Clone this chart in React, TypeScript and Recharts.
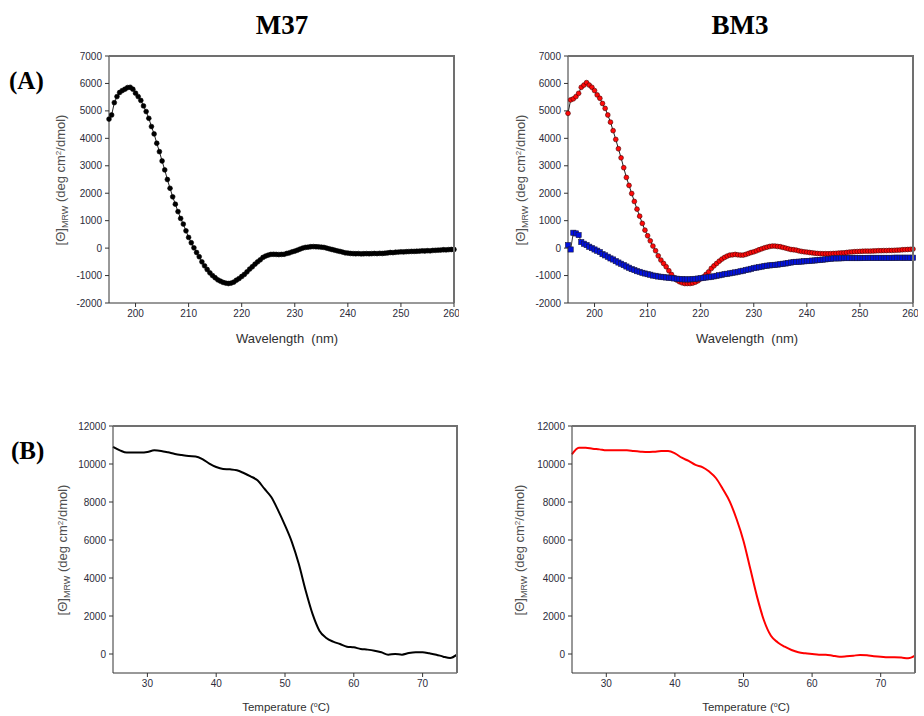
import React from 'react';
import { LineChart, Line, XAxis, YAxis } from 'recharts';

// wavelength grid of the CD spectra (nm), 0.5 nm steps
const wavelengths: number[] = [];
for (let w = 195; w <= 260; w += 0.5) wavelengths.push(w);

// [Θ]MRW values, 195 -> 260 nm
const m37Spectrum = [
  4700, 4850, 5300, 5520, 5670, 5740, 5790, 5850, 5860, 5790,
  5645, 5520, 5380, 5180, 4975, 4730, 4430, 4160, 3820, 3515,
  3175, 2850, 2500, 2180, 1870, 1600, 1330, 1080, 875, 630,
  390, 195, 10, -160, -315, -500, -645, -780, -900, -1000,
  -1080, -1155, -1205, -1250, -1275, -1290, -1275, -1240, -1170, -1110,
  -1035, -960, -865, -765, -680, -585, -500, -425, -340, -290,
  -255, -230, -225, -230, -235, -230, -225, -195, -170, -135,
  -110, -75, -35, 0, 25, 35, 50, 55, 50, 45,
  35, 25, 0, -25, -50, -75, -100, -120, -145, -170,
  -180, -195, -200, -205, -200, -210, -205, -200, -205, -200,
  -195, -200, -190, -195, -185, -175, -160, -165, -150, -145,
  -135, -140, -130, -125, -120, -120, -115, -110, -100, -105,
  -95, -100, -85, -80, -75, -70, -60, -65, -55, -50,
  -50,
];

const bm3SpectrumRed = [
  4910, 5400, 5440, 5520, 5640, 5860, 5940, 6030, 5940, 5860,
  5740, 5580, 5460, 5270, 5090, 4850, 4590, 4280, 3960, 3620,
  3290, 2930, 2575, 2285, 1990, 1700, 1420, 1165, 900, 655,
  450, 265, 75, -95, -280, -435, -560, -680, -825, -960,
  -1080, -1165, -1225, -1265, -1290, -1290, -1290, -1275, -1240, -1190,
  -1120, -1045, -960, -865, -740, -645, -560, -475, -400, -340,
  -290, -255, -245, -230, -245, -255, -255, -230, -195, -160,
  -135, -100, -60, -25, 10, 35, 60, 75, 75, 60,
  50, 25, 0, -25, -50, -60, -75, -100, -120, -135,
  -145, -160, -170, -185, -195, -200, -205, -205, -205, -200,
  -195, -190, -180, -175, -170, -160, -145, -140, -130, -125,
  -120, -115, -110, -110, -110, -105, -100, -95, -95, -90,
  -90, -85, -85, -80, -75, -70, -60, -55, -50, -45,
  -35,
];

const bm3SpectrumBlue = [
  110, -50, 560, 535, 475, 220, 160, 110, 50, 0,
  -50, -95, -145, -220, -265, -315, -375, -415, -475, -525,
  -570, -620, -670, -715, -765, -800, -840, -865, -900, -925,
  -950, -970, -1000, -1010, -1035, -1045, -1060, -1070, -1080, -1090,
  -1105, -1115, -1130, -1135, -1140, -1140, -1140, -1130, -1120, -1110,
  -1095, -1085, -1070, -1060, -1045, -1030, -1010, -990, -970, -950,
  -935, -920, -900, -885, -865, -845, -825, -800, -780, -755,
  -730, -710, -695, -675, -655, -640, -630, -620, -610, -600,
  -585, -570, -560, -540, -525, -510, -500, -495, -490, -480,
  -475, -465, -455, -450, -440, -430, -420, -410, -400, -390,
  -375, -375, -375, -370, -365, -365, -365, -365, -365, -365,
  -365, -360, -360, -355, -355, -355, -355, -355, -355, -355,
  -355, -355, -355, -350, -350, -350, -350, -350, -350, -350,
  -350,
];

// thermal melts, 25 -> 75 °C in 1 °C steps
const temperatures: number[] = [];
for (let t = 25; t <= 75; t++) temperatures.push(t);

const m37Melt = [
  10900, 10720, 10600, 10600, 10600, 10630, 10720, 10690, 10615, 10530,
  10470, 10420, 10400, 10260, 10020, 9840, 9740, 9720, 9670, 9525,
  9350, 9140, 8700, 8260, 7560, 6770, 5890, 4745, 3340, 2110,
  1230, 845, 650, 525, 385, 350, 265, 230, 175, 90,
  -35, 0, -35, 50, 90, 90, 35, -35, -140, -210,
  -35,
];

const bm3Melt = [
  10510, 10860, 10860, 10800, 10770, 10720, 10720, 10720, 10720, 10680,
  10650, 10630, 10650, 10680, 10680, 10560, 10330, 10160, 9950, 9840,
  9600, 9250, 8670, 8020, 7090, 5950, 4470, 2980, 1750, 960,
  610, 385, 210, 90, 35, 0, -35, -35, -90, -140,
  -120, -90, -50, -70, -120, -140, -175, -175, -190, -230,
  -90,
];

const wavelengthTicks = [200, 210, 220, 230, 240, 250, 260];
const cdTicks = [-2000, -1000, 0, 1000, 2000, 3000, 4000, 5000, 6000, 7000];
const temperatureTicks = [30, 40, 50, 60, 70];
const meltTicks = [0, 2000, 4000, 6000, 8000, 10000, 12000];

const spectrumData = wavelengths.map((w, i) => ({
  w,
  m37: m37Spectrum[i],
  red: bm3SpectrumRed[i],
  blue: bm3SpectrumBlue[i],
}));

const meltData = temperatures.map((t, i) => ({ t, m37: m37Melt[i], bm3: bm3Melt[i] }));

const SANS = '"Liberation Sans", Arial, sans-serif';
const SERIF = '"Liberation Serif", "Times New Roman", serif';
const AXIS = '#333';
const FRAME = '#707070';
const tickStyle = { fontSize: 10, fontFamily: SANS, fill: '#2b2b3a' };

// chart box: y axis width + margins, the plot box follows from these
const Y_W = 50;
const M_TOP = 5;
const M_RIGHT = 5;
const X_H = 30;
const CHART_H = 282;

const roundDot = (fill: string, stroke: string) => (p: any) => (
  <circle key={`c${p.index}`} cx={p.cx} cy={p.cy} r={2.4} fill={fill} stroke={stroke} strokeWidth={0.6} />
);

const squareDot = (p: any) => (
  <rect key={`s${p.index}`} x={p.cx - 2.6} y={p.cy - 2.6} width={5.2} height={5.2} fill="#0010e0" stroke="#1a1a40" strokeWidth={0.6} />
);

const SpectrumChart = ({ left, red }: { left: number; red: boolean }) => (
  <div style={{ position: 'absolute', left, top: 51 }}>
    <LineChart width={400} height={CHART_H} data={spectrumData} margin={{ top: M_TOP, right: M_RIGHT, left: 0, bottom: 0 }}>
      <XAxis dataKey="w" type="number" domain={[195, 260]} ticks={wavelengthTicks} height={X_H}
        tick={tickStyle} tickSize={4} tickMargin={3}
        axisLine={{ stroke: AXIS }} tickLine={{ stroke: AXIS }} />
      <YAxis type="number" domain={[-2000, 7000]} ticks={cdTicks} width={Y_W} interval={0}
        tick={tickStyle} tickSize={4} tickMargin={3}
        axisLine={{ stroke: AXIS }} tickLine={{ stroke: AXIS }} />
      {red ? (
        <Line dataKey="red" type="linear" stroke="#222" strokeWidth={1} dot={roundDot('#ff0a0a', '#4a0000')} isAnimationActive={false} />
      ) : (
        <Line dataKey="m37" type="linear" stroke="#222" strokeWidth={1} dot={roundDot('#000', '#000')} isAnimationActive={false} />
      )}
      {red && (
        <Line dataKey="blue" type="linear" stroke="#333" strokeWidth={1} dot={squareDot} isAnimationActive={false} />
      )}
    </LineChart>
  </div>
);

const MeltChart = ({ left, width, dataKey, color }: { left: number; width: number; dataKey: string; color: string }) => (
  <div style={{ position: 'absolute', left, top: 421 }}>
    <LineChart width={width} height={CHART_H} data={meltData} margin={{ top: M_TOP, right: M_RIGHT, left: 0, bottom: 0 }}>
      <XAxis dataKey="t" type="number" domain={[25, 75]} ticks={temperatureTicks} height={X_H}
        tick={tickStyle} tickSize={4} tickMargin={3}
        axisLine={{ stroke: AXIS }} tickLine={{ stroke: AXIS }} />
      <YAxis type="number" domain={[-1000, 12000]} ticks={meltTicks} width={Y_W} interval={0}
        tick={tickStyle} tickSize={4} tickMargin={3}
        axisLine={{ stroke: AXIS }} tickLine={{ stroke: AXIS }} />
      <Line dataKey={dataKey} type="monotone" stroke={color} strokeWidth={2} dot={false} isAnimationActive={false} />
    </LineChart>
  </div>
);

// top and right edge of a plot box, chart placed at (left, top) with given width
const FrameEdge = ({ left, top, width }: { left: number; top: number; width: number }) => {
  const x0 = left + Y_W;
  const x1 = left + width - M_RIGHT;
  const y0 = top + M_TOP;
  const y1 = top + CHART_H - X_H;
  return (
    <g>
      <line x1={x0} y1={y0} x2={x1 + 1} y2={y0} stroke={FRAME} strokeWidth={2} />
      <line x1={x1} y1={y0} x2={x1} y2={y1} stroke={FRAME} strokeWidth={2} />
    </g>
  );
};

const YLabel = ({ x, y }: { x: number; y: number }) => (
  <text transform={`translate(${x},${y}) rotate(-90)`} textAnchor="middle" fontFamily={SANS} fontSize={13} fill="#505050">
    [Θ]<tspan dy={3} fontSize={9}>MRW</tspan>
    <tspan dy={-3}> (deg cm</tspan>
    <tspan dy={-4} fontSize={8}>2</tspan>
    <tspan dy={4}>/dmol)</tspan>
  </text>
);

const App = () => (
  <div style={{ position: 'absolute', left: 0, top: 0, width: 924, height: 716, background: '#fff', overflow: 'hidden' }}>
    <SpectrumChart left={59} red={false} />
    <SpectrumChart left={518} red={true} />
    <MeltChart left={63} width={399} dataKey="m37" color="#000" />
    <MeltChart left={522} width={398} dataKey="bm3" color="#ff0000" />

    <svg width={924} height={716} style={{ position: 'absolute', left: 0, top: 0, pointerEvents: 'none' }}>
      <FrameEdge left={59} top={51} width={400} />
      <FrameEdge left={518} top={51} width={400} />
      <FrameEdge left={63} top={421} width={399} />
      <FrameEdge left={522} top={421} width={398} />

      <text x={282} y={34} textAnchor="middle" fontFamily={SERIF} fontWeight="bold" fontSize={27}>M37</text>
      <text x={740} y={34} textAnchor="middle" fontFamily={SERIF} fontWeight="bold" fontSize={27}>BM3</text>
      <text x={9} y={89} fontFamily={SERIF} fontWeight="bold" fontSize={25}>(A)</text>
      <text x={11} y={459} fontFamily={SERIF} fontWeight="bold" fontSize={25}>(B)</text>

      <YLabel x={65} y={180} />
      <YLabel x={525} y={180} />
      <YLabel x={67} y={550} />
      <YLabel x={524} y={550} />

      <text x={287} y={343} textAnchor="middle" fontFamily={SANS} fontSize={13} fill="#303030" xmlSpace="preserve">Wavelength  (nm)</text>
      <text x={747} y={343} textAnchor="middle" fontFamily={SANS} fontSize={13} fill="#303030" xmlSpace="preserve">Wavelength  (nm)</text>
      <text x={286} y={711} textAnchor="middle" fontFamily={SANS} fontSize={11.5} fill="#303030">
        Temperature (<tspan dy={-4} fontSize={7}>o</tspan><tspan dy={4}>C)</tspan>
      </text>
      <text x={746} y={711} textAnchor="middle" fontFamily={SANS} fontSize={11.5} fill="#303030">
        Temperature (<tspan dy={-4} fontSize={7}>o</tspan><tspan dy={4}>C)</tspan>
      </text>
    </svg>
  </div>
);

export default App;
